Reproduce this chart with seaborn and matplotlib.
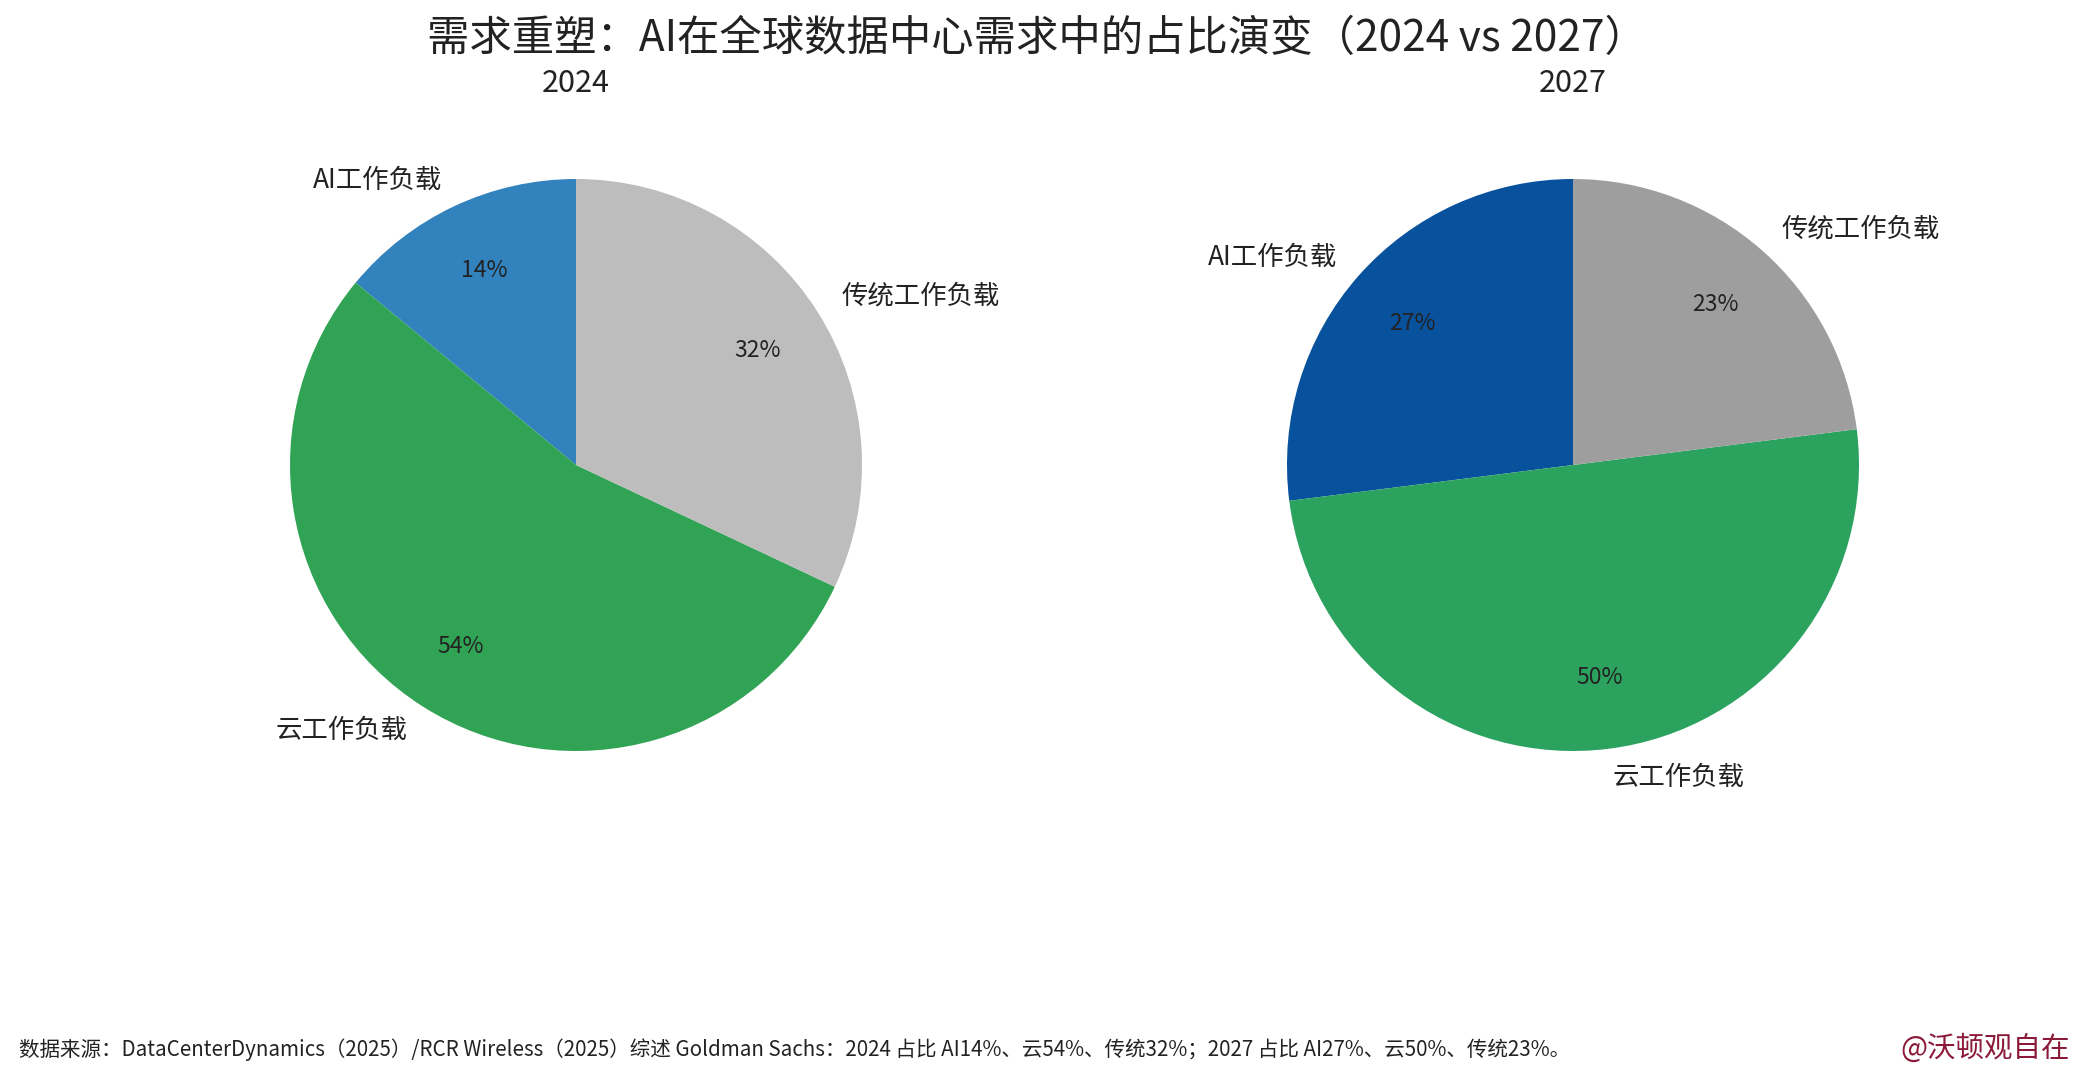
import matplotlib
matplotlib.use("Agg")
import matplotlib.pyplot as plt
import seaborn as sns

sns.set_theme(style="white")
plt.rcParams['font.family'] = ['Noto Sans CJK SC', 'DejaVu Sans']

labels = ["AI工作负载", "云工作负载", "传统工作负载"]
values_2024 = [14, 54, 32]
values_2027 = [27, 50, 23]
colors_2024 = ["#3182bd", "#31a354", "#bdbdbd"]
colors_2027 = ["#08519c", "#2ca25f", "#9e9e9e"]
title = "需求重塑：AI在全球数据中心需求中的占比演变（2024 vs 2027）"
years = ["2024", "2027"]
source = "数据来源：DataCenterDynamics（2025）/RCR Wireless（2025）综述 Goldman Sachs：2024 占比 AI14%、云54%、传统32%；2027 占比 AI27%、云50%、传统23%。"
mark = "@沃顿观自在"

W, H = 2086, 1080
fig = plt.figure(figsize=(W/100, H/100), dpi=100, facecolor="white")
R = 286
centers = [(576, 465), (1573, 465)]
side = 2*R/0.92
for (cx, cy), vals, cols, yr in zip(centers, [values_2024, values_2027], [colors_2024, colors_2027], years):
    ax = fig.add_axes([(cx-side/2)/W, 1-(cy+side/2)/H, side/W, side/H])
    wedges, texts, autotexts = ax.pie(
        vals, labels=labels, colors=cols, startangle=90, radius=0.92,
        autopct="%d%%", pctdistance=0.75, labeldistance=1.10,
        wedgeprops=dict(linewidth=0),
        textprops=dict(fontsize=19, color="#222222"))
    for t in autotexts:
        t.set_fontsize(16.5)
    ax.set_xlim(-1, 1); ax.set_ylim(-1, 1)
    fig.text(cx/W, 1-84/H, yr, ha="center", va="center", fontsize=22, color="#222222")

fig.text(0.497, 1-39/H, title, ha="center", va="center", fontsize=30.5, color="#222222")
fig.text(19/W, 1-1050/H, source, ha="left", va="center", fontsize=14.8, color="#222222")
fig.text(2070/W, 1-1049/H, mark, ha="right", va="center", fontsize=20.5, color="#8b1a3a")
fig.savefig("out.png", dpi=100)
